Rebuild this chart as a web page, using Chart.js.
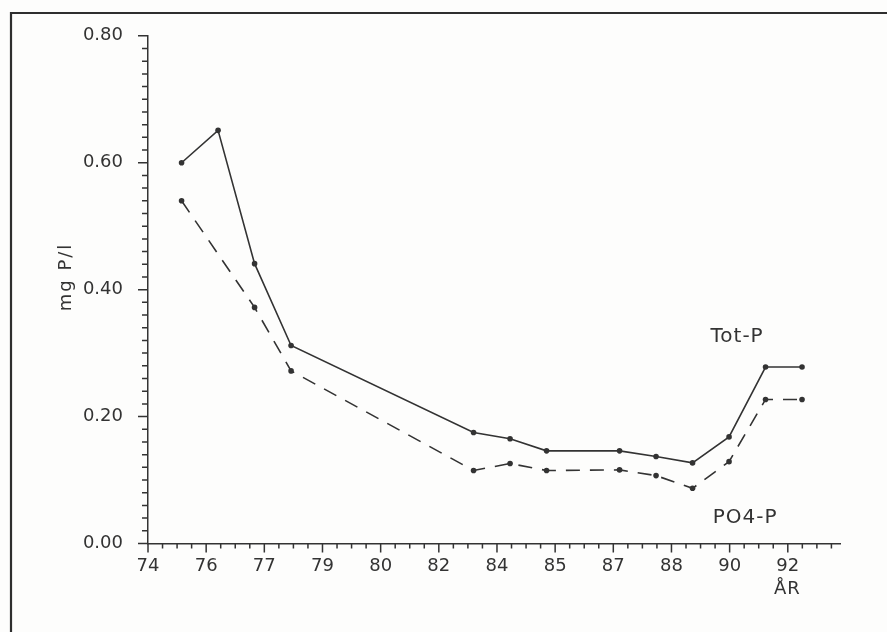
<!DOCTYPE html>
<html>
<head>
<meta charset="utf-8">
<title>Tot-P og PO4-P</title>
<script src="https://cdn.jsdelivr.net/npm/chart.js@4.4.1/dist/chart.umd.min.js"></script>
<style>
    html, body { margin: 0; padding: 0; background: #fdfdfc; }
    #wrap { position: relative; width: 887px; height: 632px; }
</style>
</head>
<body>
<div id="wrap"><canvas id="chart" width="887" height="632"></canvas></div>
<script>
'use strict';

// år for målingerne
var years = [75, 76, 77, 78, 83, 84, 85, 87, 88, 89, 90, 91, 92];

// mg P/l
var totP = [0.600, 0.651, 0.441, 0.312, 0.175, 0.165, 0.146, 0.146, 0.137, 0.127, 0.168, 0.278, 0.278];
var po4P = [0.540, null, 0.372, 0.272, 0.115, 0.126, 0.115, 0.116, 0.107, 0.087, 0.129, 0.227, 0.227];

// akseinddeling som på plotteren
var xTickLabels = ['74', '76', '77', '79', '80', '82', '84', '85', '87', '88', '90', '92'];
var xAxisStart = 74.08;
var xAxisEnd = 93.04;
var xTickStep = 1.5936;
var yTicks = [0, 0.2, 0.4, 0.6, 0.8];
var yMinorStep = 0.02;

var ink = '#333333',
    font = '"DejaVu Sans", sans-serif',

    toPoints = function (values) {
        return values.map(function (v, i) {
            return { x: years[i], y: v };
        });
    },

    // tick marks, long for labelled values and short in between
    tickMarks = {
        id: 'tickMarks',
        afterDraw: function (chart) {
            var ctx = chart.ctx,
                xs = chart.scales.x,
                ys = chart.scales.y,
                i, v, p, len;

            ctx.save();
            ctx.strokeStyle = ink;
            ctx.lineWidth = 1.5;
            ctx.beginPath();

            for (i = 0; i * yMinorStep <= ys.max + 1e-9; i++) {
                v = i * yMinorStep;
                p = ys.getPixelForValue(v);
                len = (i % 10 === 0) ? 10 : 6;
                ctx.moveTo(ys.right - len, p);
                ctx.lineTo(ys.right, p);
            }

            for (i = 0; xAxisStart + i * xTickStep / 4 <= xAxisEnd; i++) {
                v = xAxisStart + i * xTickStep / 4;
                p = xs.getPixelForValue(v);
                len = (i % 4 === 0) ? 9 : 5;
                ctx.moveTo(p, xs.top);
                ctx.lineTo(p, xs.top + len);
            }

            ctx.stroke();
            ctx.restore();
        }
    },

    // frame of the page and the free text
    annotations = {
        id: 'annotations',
        afterDraw: function (chart) {
            var ctx = chart.ctx,
                xs = chart.scales.x,
                ys = chart.scales.y;

            ctx.save();
            ctx.strokeStyle = '#2e2e2e';
            ctx.lineWidth = 2.2;
            ctx.beginPath();
            ctx.moveTo(11, 632);
            ctx.lineTo(11, 13);
            ctx.lineTo(887, 13);
            ctx.stroke();

            ctx.fillStyle = ink;
            ctx.textAlign = 'center';
            ctx.textBaseline = 'middle';
            ctx.letterSpacing = '1px';
            ctx.font = '20px ' + font;
            ctx.fillText('Tot-P', xs.getPixelForValue(90.22), ys.getPixelForValue(0.326));
            ctx.fillText('PO4-P', xs.getPixelForValue(90.44), ys.getPixelForValue(0.040));
            ctx.font = '18px ' + font;
            ctx.fillText('ÅR', xs.getPixelForValue(91.6), xs.top + 46);

            ctx.letterSpacing = '2px';
            ctx.translate(66, 277);
            ctx.rotate(-Math.PI / 2);
            ctx.fillText('mg P/l', 0, 0);
            ctx.restore();
        }
    };

new Chart(document.getElementById('chart'), {
    type: 'line',
    data: {
        datasets: [{
            label: 'Tot-P',
            data: toPoints(totP),
            borderColor: ink,
            backgroundColor: ink,
            borderWidth: 1.6,
            pointRadius: 2.8,
            pointBorderWidth: 0,
            tension: 0
        }, {
            label: 'PO4-P',
            data: toPoints(po4P),
            borderColor: ink,
            backgroundColor: ink,
            borderWidth: 1.6,
            borderDash: [14, 10],
            pointRadius: 2.8,
            pointBorderWidth: 0,
            spanGaps: true,
            tension: 0
        }]
    },
    options: {
        responsive: false,
        animation: false,
        layout: { padding: { left: 0, right: 47, top: 26.5, bottom: 0 } },
        plugins: {
            legend: { display: false },
            tooltip: { enabled: false }
        },
        scales: {
            x: {
                type: 'linear',
                min: xAxisStart,
                max: xAxisEnd,
                afterFit: function (scale) { scale.height = 88.5; },
                afterBuildTicks: function (scale) {
                    scale.ticks = xTickLabels.map(function (label, i) {
                        return { value: xAxisStart + i * xTickStep };
                    });
                },
                grid: { display: false, drawTicks: false },
                border: { display: true, color: ink, width: 1.5 },
                ticks: {
                    autoSkip: false,
                    maxRotation: 0,
                    padding: 12,
                    color: ink,
                    font: { family: font, size: 18 },
                    callback: function (value, index) { return xTickLabels[index]; }
                }
            },
            y: {
                min: 0,
                max: 0.8,
                afterFit: function (scale) { scale.width = 148; },
                afterBuildTicks: function (scale) {
                    scale.ticks = yTicks.map(function (v) { return { value: v }; });
                },
                grid: { display: false, drawTicks: false },
                border: { display: true, color: ink, width: 1.5 },
                ticks: {
                    padding: 25,
                    color: ink,
                    font: { family: font, size: 18 },
                    callback: function (value) { return value.toFixed(2); }
                }
            }
        }
    },
    plugins: [tickMarks, annotations]
});
</script>
</body>
</html>
